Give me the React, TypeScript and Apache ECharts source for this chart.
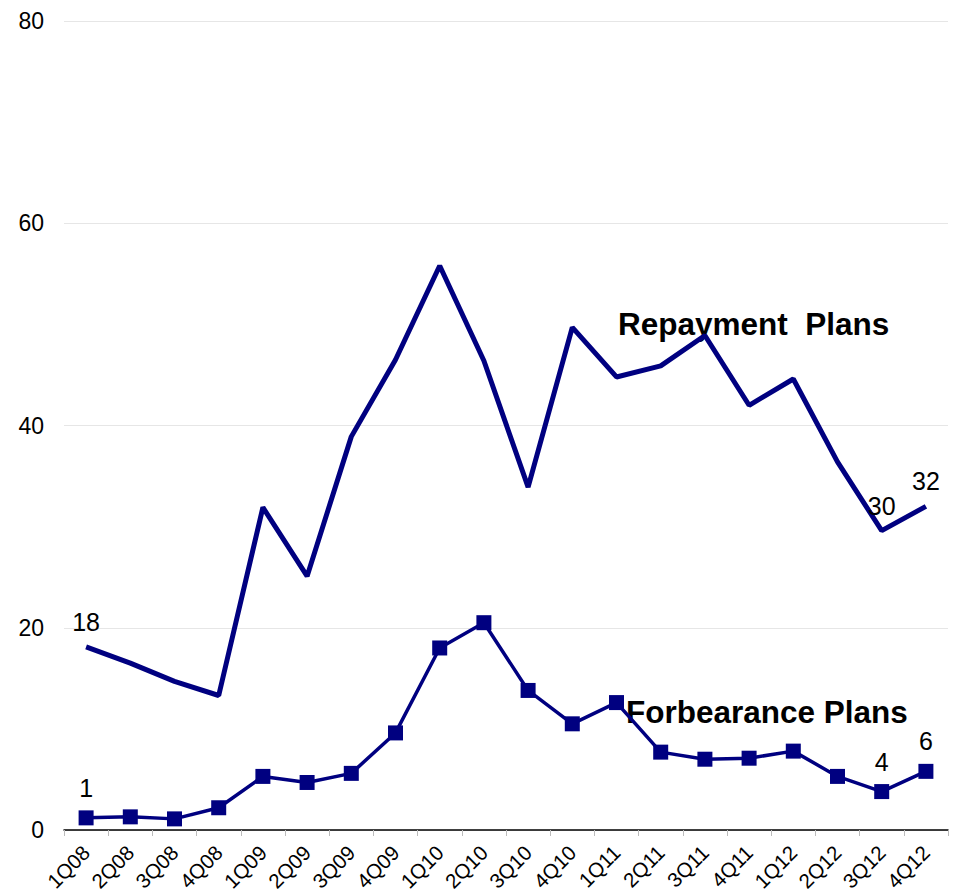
import React, { useEffect, useRef } from "react";
import * as echarts from "echarts";

const categories = ["1Q08","2Q08","3Q08","4Q08","1Q09","2Q09","3Q09","4Q09","1Q10","2Q10","3Q10","4Q10","1Q11","2Q11","3Q11","4Q11","1Q12","2Q12","3Q12","4Q12"];
const repayment = [18.1,16.5,14.7,13.3,31.9,25.1,38.9,46.5,55.8,46.4,33.9,49.7,44.8,45.9,48.9,42.0,44.6,36.4,29.6,32.0];
const forbearance = [1.2,1.3,1.1,2.2,5.3,4.7,5.6,9.6,18.0,20.5,13.8,10.5,12.6,7.7,7.0,7.1,7.8,5.3,3.8,5.8];
const repaymentLabels: Record<number, string> = { 0: "18", 18: "30", 19: "32" };
const forbearanceLabels: Record<number, string> = { 0: "1", 18: "4", 19: "6" };
const yTicks = [0, 20, 40, 60, 80];

const NAVY = "#000080";
const FONT = "'Liberation Sans', Arial, sans-serif";

export default function App() {
  const ref = useRef<HTMLDivElement>(null);
  useEffect(() => {
    document.body.style.margin = "0";
    const chart = echarts.init(ref.current!, null, { renderer: "svg" });
    chart.setOption({
      animation: false,
      textStyle: { fontFamily: FONT },
      grid: { left: 64, right: 10, top: 21, bottom: 65 },
      xAxis: {
        type: "category",
        data: categories,
        boundaryGap: true,
        axisLine: { lineStyle: { color: "#000", width: 1.5 } },
        axisTick: { show: true, length: 6, lineStyle: { color: "#bbb" } },
        axisLabel: { rotate: 45, fontSize: 20.5, color: "#000", fontFamily: FONT, margin: 19 },
      },
      yAxis: {
        type: "value",
        min: yTicks[0],
        max: yTicks[yTicks.length - 1],
        interval: 20,
        axisLine: { show: false },
        axisTick: { show: false },
        splitLine: { lineStyle: { color: "#e6e6e6", width: 1 } },
        axisLabel: { fontSize: 23, color: "#000", fontFamily: FONT, margin: 20 },
      },
      series: [
        {
          type: "line",
          name: "Repayment Plans",
          data: repayment.map((v, i) => ({
            value: v,
            label: { show: repaymentLabels[i] !== undefined, formatter: repaymentLabels[i] ?? "" },
          })),
          showSymbol: true,
          symbol: "circle",
          symbolSize: 1,
          lineStyle: { color: NAVY, width: 5 },
          itemStyle: { color: "rgba(0,0,0,0)" },
          label: { position: "top", distance: 12, fontSize: 25, color: "#000", fontFamily: FONT },
        },
        {
          type: "line",
          name: "Forbearance Plans",
          data: forbearance.map((v, i) => ({
            value: v,
            label: { show: forbearanceLabels[i] !== undefined, formatter: forbearanceLabels[i] ?? "" },
          })),
          symbol: "rect",
          symbolSize: 15,
          showSymbol: true,
          lineStyle: { color: NAVY, width: 3.5 },
          itemStyle: { color: NAVY },
          label: { position: "top", distance: 10, fontSize: 25, color: "#000", fontFamily: FONT },
        },
      ],
      graphic: [
        {
          type: "text",
          left: 618,
          top: 308,
          style: { text: "Repayment  Plans", fontSize: 31.5, fontWeight: "bold", fill: "#000", fontFamily: FONT },
        },
        {
          type: "text",
          left: 626,
          top: 696,
          style: { text: "Forbearance Plans", fontSize: 31.5, fontWeight: "bold", fill: "#000", fontFamily: FONT },
        },
      ],
    });
    return () => chart.dispose();
  }, []);
  return <div ref={ref} style={{ width: 958, height: 895, position: "absolute", left: 0, top: 0 }} />;
}
